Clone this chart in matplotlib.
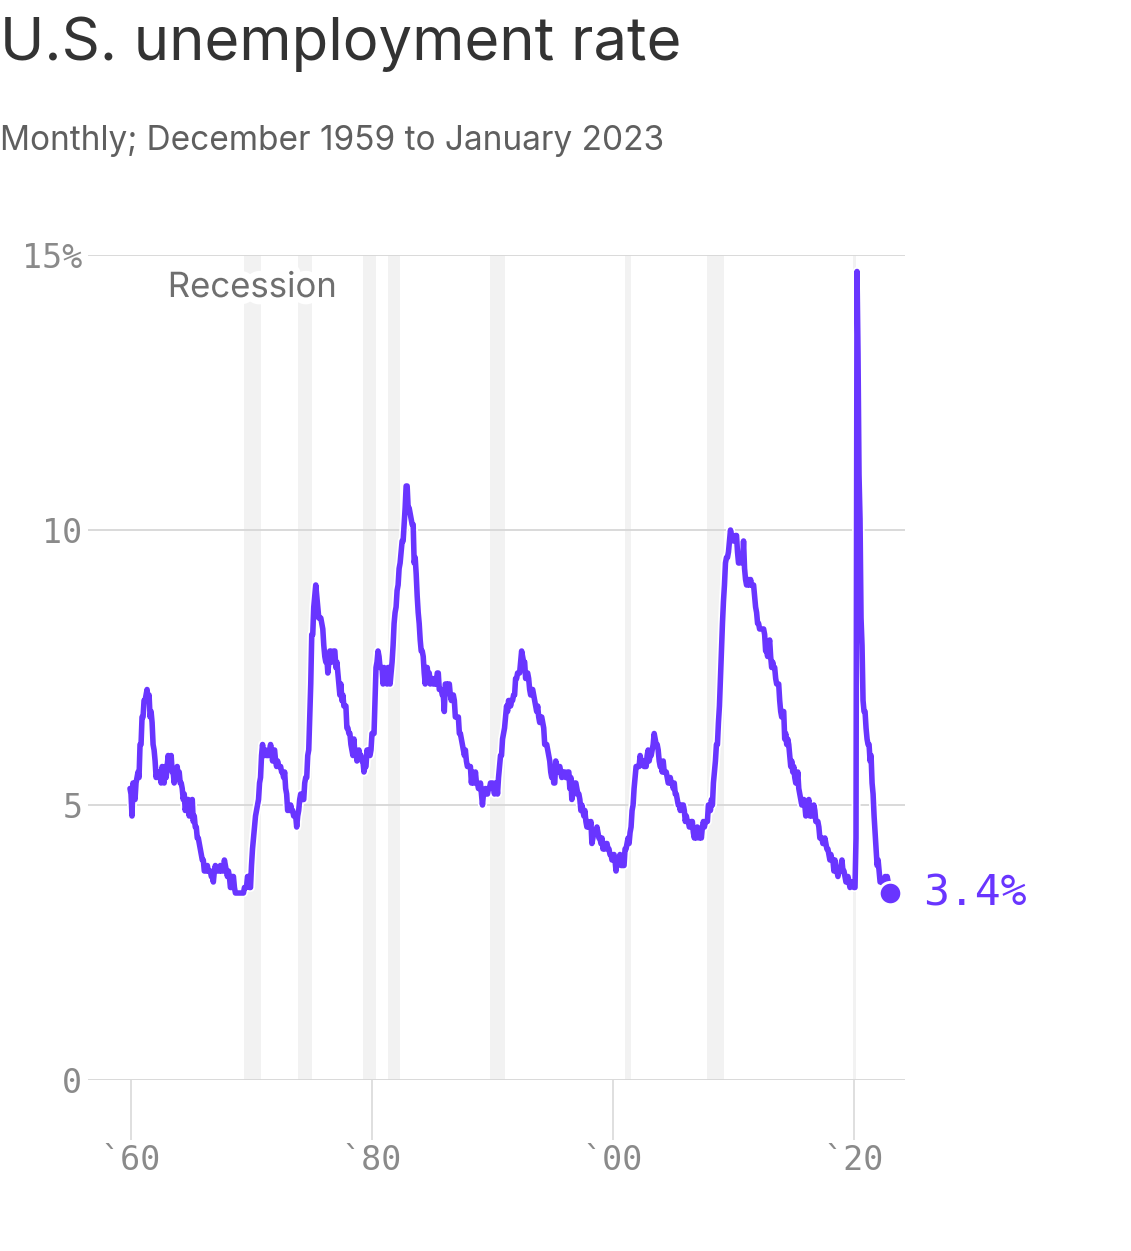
import matplotlib
matplotlib.use("Agg")
import matplotlib.pyplot as plt
import matplotlib.patheffects as pe
import numpy as np

# monthly unemployment rate, Dec 1959 .. Jan 2023
start_year = 1959 + 11 / 12
unemployment_rate = [
    5.3,
    5.2, 4.8, 5.4, 5.2, 5.1, 5.4, 5.5, 5.6, 5.5, 6.1, 6.1, 6.6,  # 1960
    6.6, 6.9, 6.9, 7.0, 7.1, 6.9, 7.0, 6.6, 6.7, 6.5, 6.1, 6.0,
    5.8, 5.5, 5.6, 5.6, 5.5, 5.5, 5.4, 5.7, 5.6, 5.4, 5.7, 5.5,
    5.7, 5.9, 5.7, 5.7, 5.9, 5.6, 5.6, 5.4, 5.5, 5.5, 5.7, 5.5,
    5.6, 5.4, 5.4, 5.3, 5.1, 5.2, 4.9, 5.0, 5.1, 5.1, 4.8, 5.0,
    4.9, 5.1, 4.7, 4.8, 4.6, 4.6, 4.4, 4.4, 4.3, 4.2, 4.1, 4.0,  # 1965
    4.0, 3.8, 3.8, 3.8, 3.9, 3.8, 3.8, 3.8, 3.7, 3.7, 3.6, 3.8,
    3.9, 3.8, 3.8, 3.8, 3.8, 3.9, 3.8, 3.8, 3.8, 4.0, 3.9, 3.8,
    3.7, 3.8, 3.7, 3.5, 3.5, 3.7, 3.7, 3.5, 3.4, 3.4, 3.4, 3.4,
    3.4, 3.4, 3.4, 3.4, 3.4, 3.5, 3.5, 3.5, 3.7, 3.7, 3.5, 3.5,
    3.9, 4.2, 4.4, 4.6, 4.8, 4.9, 5.0, 5.1, 5.4, 5.5, 5.9, 6.1,  # 1970
    5.9, 5.9, 6.0, 5.9, 5.9, 5.9, 6.0, 6.1, 6.0, 5.8, 6.0, 6.0,
    5.8, 5.7, 5.8, 5.7, 5.7, 5.7, 5.6, 5.6, 5.5, 5.6, 5.3, 5.2,
    4.9, 5.0, 4.9, 5.0, 4.9, 4.9, 4.8, 4.8, 4.8, 4.6, 4.8, 4.9,
    5.1, 5.2, 5.1, 5.1, 5.1, 5.4, 5.5, 5.5, 5.9, 6.0, 6.6, 7.2,
    8.1, 8.1, 8.6, 8.8, 9.0, 8.8, 8.6, 8.4, 8.4, 8.4, 8.3, 8.2,  # 1975
    7.9, 7.7, 7.6, 7.7, 7.4, 7.6, 7.8, 7.8, 7.6, 7.7, 7.8, 7.8,
    7.5, 7.6, 7.4, 7.2, 7.0, 7.2, 6.9, 7.0, 6.8, 6.8, 6.8, 6.4,
    6.4, 6.3, 6.3, 6.1, 6.0, 5.9, 6.2, 5.9, 6.0, 5.8, 5.9, 6.0,
    5.9, 5.9, 5.8, 5.8, 5.6, 5.7, 5.7, 6.0, 5.9, 6.0, 5.9, 6.0,
    6.3, 6.3, 6.3, 6.9, 7.5, 7.6, 7.8, 7.7, 7.5, 7.5, 7.5, 7.2,  # 1980
    7.5, 7.4, 7.4, 7.2, 7.5, 7.5, 7.2, 7.4, 7.6, 7.9, 8.3, 8.5,
    8.6, 8.9, 9.0, 9.3, 9.4, 9.6, 9.8, 9.8, 10.1, 10.4, 10.8, 10.8,
    10.4, 10.4, 10.3, 10.2, 10.1, 10.1, 9.4, 9.5, 9.2, 8.8, 8.5, 8.3,
    8.0, 7.8, 7.8, 7.7, 7.4, 7.2, 7.5, 7.5, 7.3, 7.4, 7.2, 7.3,
    7.3, 7.2, 7.2, 7.3, 7.2, 7.4, 7.4, 7.1, 7.1, 7.1, 7.0, 7.0,  # 1985
    6.7, 7.2, 7.2, 7.1, 7.2, 7.2, 7.0, 6.9, 7.0, 7.0, 6.9, 6.6,
    6.6, 6.6, 6.6, 6.3, 6.3, 6.2, 6.1, 6.0, 5.9, 6.0, 5.8, 5.7,
    5.7, 5.7, 5.7, 5.4, 5.6, 5.4, 5.4, 5.6, 5.4, 5.4, 5.3, 5.3,
    5.4, 5.2, 5.0, 5.2, 5.2, 5.3, 5.2, 5.2, 5.3, 5.3, 5.4, 5.4,
    5.4, 5.3, 5.2, 5.4, 5.4, 5.2, 5.5, 5.7, 5.9, 5.9, 6.2, 6.3,  # 1990
    6.4, 6.6, 6.8, 6.7, 6.9, 6.9, 6.8, 6.9, 6.9, 7.0, 7.0, 7.3,
    7.3, 7.4, 7.4, 7.4, 7.6, 7.8, 7.7, 7.6, 7.6, 7.3, 7.4, 7.4,
    7.3, 7.1, 7.0, 7.1, 7.1, 7.0, 6.9, 6.8, 6.7, 6.8, 6.6, 6.5,
    6.6, 6.6, 6.5, 6.4, 6.1, 6.1, 6.1, 6.0, 5.9, 5.8, 5.6, 5.5,
    5.6, 5.4, 5.4, 5.8, 5.6, 5.6, 5.7, 5.7, 5.6, 5.5, 5.6, 5.6,  # 1995
    5.6, 5.5, 5.5, 5.6, 5.6, 5.3, 5.5, 5.1, 5.2, 5.2, 5.4, 5.4,
    5.3, 5.2, 5.2, 5.1, 4.9, 5.0, 4.9, 4.8, 4.9, 4.7, 4.6, 4.7,
    4.6, 4.6, 4.7, 4.3, 4.4, 4.5, 4.5, 4.5, 4.6, 4.5, 4.4, 4.4,
    4.3, 4.4, 4.2, 4.3, 4.2, 4.3, 4.3, 4.2, 4.2, 4.1, 4.1, 4.0,
    4.0, 4.1, 4.0, 3.8, 4.0, 4.0, 4.0, 4.1, 3.9, 3.9, 3.9, 3.9,  # 2000
    4.2, 4.2, 4.3, 4.4, 4.3, 4.5, 4.6, 4.9, 5.0, 5.3, 5.5, 5.7,
    5.7, 5.7, 5.7, 5.9, 5.8, 5.8, 5.8, 5.7, 5.7, 5.7, 5.9, 6.0,
    5.8, 5.9, 5.9, 6.0, 6.1, 6.3, 6.2, 6.1, 6.1, 6.0, 5.8, 5.7,
    5.7, 5.6, 5.8, 5.6, 5.6, 5.6, 5.5, 5.4, 5.4, 5.5, 5.4, 5.4,
    5.3, 5.4, 5.2, 5.2, 5.1, 5.0, 5.0, 4.9, 5.0, 5.0, 5.0, 4.9,  # 2005
    4.7, 4.8, 4.7, 4.7, 4.6, 4.6, 4.7, 4.7, 4.5, 4.4, 4.5, 4.4,
    4.6, 4.5, 4.4, 4.5, 4.4, 4.6, 4.7, 4.6, 4.7, 4.7, 4.7, 5.0,
    5.0, 4.9, 5.1, 5.0, 5.4, 5.6, 5.8, 6.1, 6.1, 6.5, 6.8, 7.3,
    7.8, 8.3, 8.7, 9.0, 9.4, 9.5, 9.5, 9.6, 9.8, 10.0, 9.9, 9.9,
    9.8, 9.8, 9.9, 9.9, 9.6, 9.4, 9.4, 9.5, 9.5, 9.4, 9.8, 9.3,  # 2010
    9.1, 9.0, 9.0, 9.1, 9.0, 9.1, 9.0, 9.0, 9.0, 8.8, 8.6, 8.5,
    8.3, 8.3, 8.2, 8.2, 8.2, 8.2, 8.2, 8.1, 7.8, 7.8, 7.7, 7.9,
    8.0, 7.7, 7.5, 7.6, 7.5, 7.5, 7.3, 7.2, 7.2, 7.2, 6.9, 6.7,
    6.6, 6.7, 6.7, 6.2, 6.3, 6.1, 6.2, 6.1, 5.9, 5.7, 5.8, 5.6,
    5.7, 5.5, 5.4, 5.4, 5.6, 5.3, 5.2, 5.1, 5.0, 5.0, 5.1, 5.0,  # 2015
    4.8, 4.9, 5.0, 5.1, 4.8, 4.9, 4.8, 4.9, 5.0, 4.9, 4.7, 4.7,
    4.7, 4.6, 4.4, 4.4, 4.4, 4.3, 4.3, 4.4, 4.3, 4.2, 4.2, 4.1,
    4.0, 4.1, 4.0, 4.0, 3.8, 4.0, 3.8, 3.8, 3.7, 3.8, 3.8, 3.9,
    4.0, 3.8, 3.8, 3.7, 3.6, 3.6, 3.7, 3.6, 3.5, 3.6, 3.6, 3.6,
    3.5, 3.5, 4.4, 14.7, 13.2, 11.0, 10.2, 8.4, 7.9, 6.9, 6.7, 6.7,  # 2020
    6.4, 6.2, 6.1, 6.1, 5.8, 5.9, 5.4, 5.2, 4.8, 4.5, 4.2, 3.9,
    4.0, 3.8, 3.6, 3.6, 3.6, 3.6, 3.5, 3.7, 3.5, 3.7, 3.6, 3.5,
    3.4,  # Jan 2023
]

# shaded recession periods (decimal years, as drawn)
recession_starts = [1969.4, 1973.85, 1979.25, 1981.35, 1989.8, 2000.99, 2007.8, 2019.95]
recession_ends = [1970.8, 1975.0, 1980.35, 1982.3, 1991.05, 2001.5, 2009.2, 2020.2]

y_ticks = [0, 5, 10, 15]
y_tick_labels = ["0", "5", "10", "15%"]
x_ticks = [1960, 1980, 2000, 2020]
x_tick_labels = ["`60", "`80", "`00", "`20"]

PURPLE = "#6935ff"
GRID = "#d9d9d9"
BAND = "#f2f2f2"
MONO = "DejaVu Sans Mono"
SANS = "Inter"

rate = np.array(unemployment_rate)
t = start_year + np.arange(len(rate)) / 12

fig = plt.figure(figsize=(11.31, 12.51), dpi=100)
ax = fig.add_axes([88 / 1131, 1 - 1080 / 1251, (905 - 88) / 1131, (1080 - 255) / 1251])

for s, e in zip(recession_starts, recession_ends):
    ax.axvspan(s, e, color=BAND, lw=0, zorder=0)

ax.set_ylim(0, 15)
ax.set_xlim(1960 - 43 / 12.05, 1960 + (905 - 131) / 12.05)

ax.set_yticks(y_ticks)
ax.set_yticklabels(y_tick_labels, family=MONO, fontsize=24, color="#8a8a8a")
ax.set_xticks(x_ticks)
ax.set_xticklabels(x_tick_labels, family=MONO, fontsize=24, color="#8a8a8a")
ax.tick_params(axis="y", length=0, pad=4)
ax.tick_params(axis="x", length=43, width=1.2, color=GRID, pad=3)
ax.grid(axis="y", color=GRID, lw=1.4, zorder=1)
for sp in ax.spines.values():
    sp.set_visible(False)

ax.plot(t, rate, color=PURPLE, lw=4.0, solid_joinstyle="round", solid_capstyle="round", zorder=3,
        path_effects=[pe.Stroke(linewidth=6.5, foreground="white"), pe.Normal()])

ax.scatter([t[-1]], [rate[-1]], s=260, color=PURPLE, edgecolor="white", linewidth=2, zorder=4, clip_on=False)
ax.annotate(f"{rate[-1]:.1f}%", (t[-1], rate[-1]), xytext=(24, 0), textcoords="offset points",
            va="center", ha="left", family=MONO, fontsize=31, color=PURPLE, annotation_clip=False)

ax.text(1963.05, 14.4, "Recession", family=SANS, fontsize=25, color="#6f6f6f", va="center", ha="left",
        zorder=2, path_effects=[pe.Stroke(linewidth=10, foreground="white"), pe.Normal()])

fig.text(0.0, 1 - 60 / 1251, "U.S. unemployment rate", family=SANS, fontsize=43, color="#333333",
         ha="left", va="baseline")
fig.text(0.0, 1 - 150 / 1251, "Monthly; December 1959 to January 2023", family=SANS, fontsize=24,
         color="#5f5f5f", ha="left", va="baseline")

fig.savefig("out.png", dpi=100, facecolor="white")
